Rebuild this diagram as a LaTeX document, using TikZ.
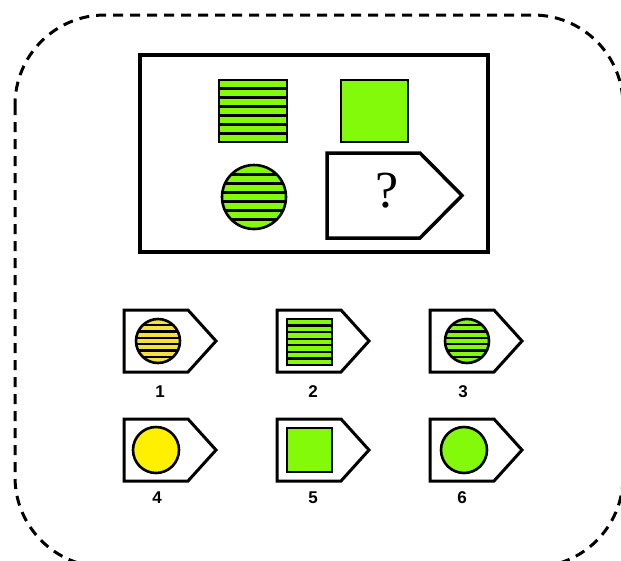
\documentclass[tikz,border=0pt]{standalone}
\usepackage{fontspec}
\setmainfont{Liberation Serif}
\setsansfont{Liberation Sans}
\definecolor{lime}{RGB}{130,250,10}
\definecolor{sun}{RGB}{255,240,0}
\definecolor{paleSun}{RGB}{245,225,60}
\usepackage{tikz}
\usepackage{xcolor}

\newcommand{\stripedbox}[5]{% cx, cy, half width, half height, colour
  \begin{scope}
    \clip (#1-#3,#2-#4) rectangle (#1+#3,#2+#4);
    \fill[#5] (#1-#3,#2-#4) rectangle (#1+#3,#2+#4);
    \foreach \k in {1,...,6}
      \draw[stripe] (#1-#3,#2-#4+2*#4*\k/7) -- (#1+#3,#2-#4+2*#4*\k/7);
  \end{scope}
  \draw[shapeline] (#1-#3,#2-#4) rectangle (#1+#3,#2+#4);
}
\newcommand{\stripedball}[4]{% cx, cy, radius, colour
  \begin{scope}
    \clip (#1,#2) circle (#3pt);
    \fill[#4] (#1,#2) circle (#3pt);
    \foreach \k in {1,...,6}
      \draw[stripe] (#1-#3,#2-#3+2*#3*\k/7) -- (#1+#3,#2-#3+2*#3*\k/7);
  \end{scope}
  \draw[shapeline] (#1,#2) circle (#3pt);
}
\newcommand{\answertag}[2]{% left, top
  \draw[tagline] (#1,#2) -- ++(64,0) -- ++(28,31) -- ++(-28,31) -- ++(-64,0) -- cycle;
}

\begin{document}
\begin{tikzpicture}[x=1pt, y=-1pt,
  frame/.style={line width=3.5pt},
  tagline/.style={line width=3pt, line join=miter, fill=white},
  shapeline/.style={line width=2.6pt},
  stripe/.style={line width=3pt},
  num/.style={font=\sffamily\bfseries\fontsize{17}{17}\selectfont},
  qmark/.style={font=\fontsize{52}{52}\selectfont}]
  \useasboundingbox (0,0) rectangle (621,560);
  %% 1. Outer dashed frame
  \draw[line width=3pt, dash pattern=on 10pt off 7pt, rounded corners=90pt]
    (15,15) rectangle (623,567);
  %% 2. Question box
  \draw[frame] (140,55) rectangle (488,252);
  \stripedbox{253}{111}{34}{31}{lime}
  \filldraw[fill=lime, shapeline] (341,80) rectangle (408,142);
  \stripedball{254}{197}{32}{lime}
  \draw[tagline, line width=3.5pt] (327,153) -- ++(93,0) -- ++(42,42.5) -- ++(-42,42.5)
    -- ++(-93,0) -- cycle;
  \node[qmark] (q) at (387,191) {?};
  %% 3. Answers, first row
  \answertag{124}{310}
  \answertag{277}{310}
  \answertag{430}{310}
  \begin{scope}[stripe/.style={line width=2.2pt}]
    \stripedball{158}{341}{22}{paleSun}
    \stripedbox{309.5}{342}{22.5}{23}{lime}
    \stripedball{467}{341}{22}{lime}
  \end{scope}
  \node[num] (n1) at (160,392) {1};
  \node[num] (n2) at (313,392) {2};
  \node[num] (n3) at (463,392) {3};
  %% 4. Answers, second row
  \answertag{124}{419}
  \answertag{277}{419}
  \answertag{430}{419}
  \filldraw[fill=sun, shapeline] (156,450) circle (23pt);
  \filldraw[fill=lime, shapeline] (287,428) rectangle (332,472);
  \filldraw[fill=lime, shapeline] (464,450) circle (23pt);
  \node[num] (n4) at (157,498) {4};
  \node[num] (n5) at (313,498) {5};
  \node[num] (n6) at (462,498) {6};
\end{tikzpicture}
\end{document}
